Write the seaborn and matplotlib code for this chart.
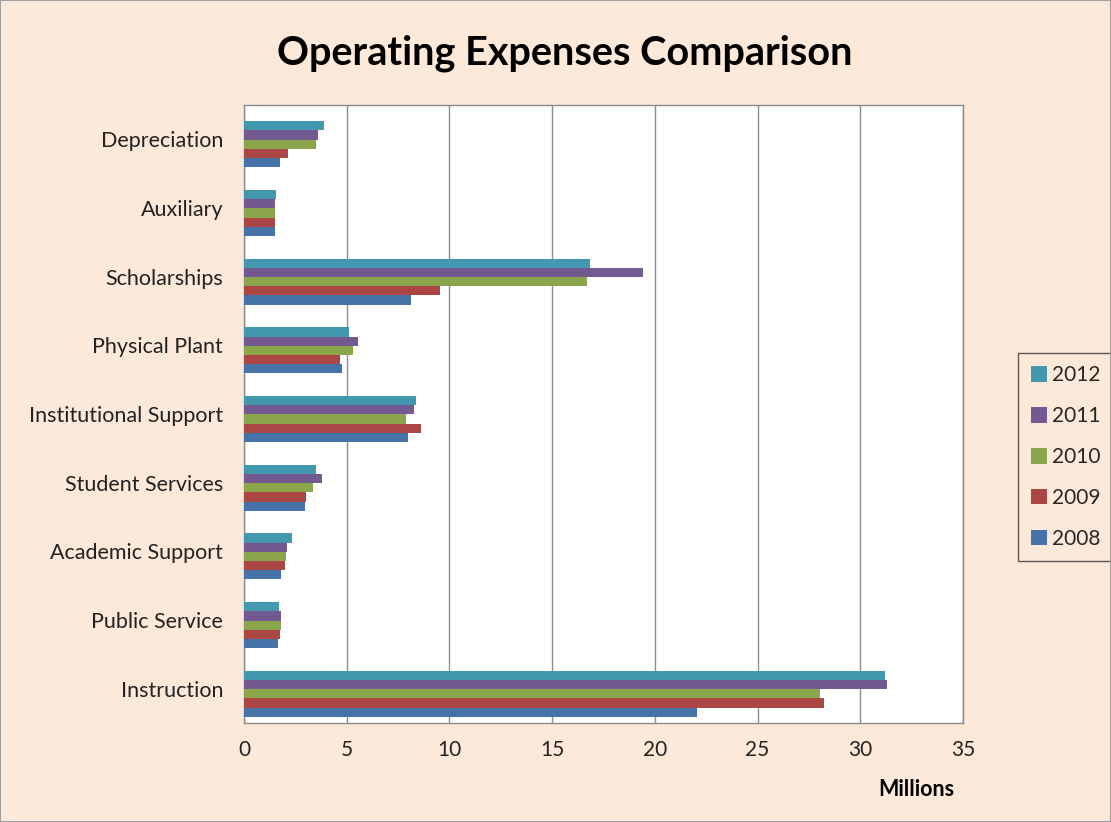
import pandas as pd
import matplotlib.pyplot as plt
import matplotlib.transforms as mtransforms
import seaborn as sns
from matplotlib.patches import Rectangle

# categories top to bottom
categories = ['Depreciation', 'Auxiliary', 'Scholarships', 'Physical Plant',
              'Institutional Support', 'Student Services', 'Academic Support',
              'Public Service', 'Instruction']
years = ['2012', '2011', '2010', '2009', '2008']

v2012 = [3.88, 1.58, 16.86, 5.13, 8.36, 3.51, 2.36, 1.71, 31.18]
v2011 = [3.61, 1.53, 19.44, 5.57, 8.26, 3.79, 2.10, 1.81, 31.28]
v2010 = [3.51, 1.53, 16.72, 5.29, 7.87, 3.38, 2.03, 1.81, 28.05]
v2009 = [2.15, 1.53, 9.56, 4.65, 8.64, 3.03, 1.99, 1.76, 28.21]
v2008 = [1.76, 1.53, 8.13, 4.76, 7.97, 2.96, 1.81, 1.66, 22.03]

colors = ['#4198AF', '#725990', '#8AA54C', '#AA4643', '#4572A7']

rows = []
for yr, vals in zip(years, [v2012, v2011, v2010, v2009, v2008]):
    for c, v in zip(categories, vals):
        rows.append({'Category': c, 'Year': yr, 'Value': v})
df = pd.DataFrame(rows)

sns.set_style('white')
plt.rcParams['font.family'] = ['Lato', 'DejaVu Sans']

bg = '#FDE9D9'
fig = plt.figure(figsize=(11.11, 8.22), dpi=100, facecolor=bg)
ax = fig.add_axes([0.2196, 0.1204, 0.6472, 0.7522])
ax.set_facecolor('white')

sns.barplot(data=df, y='Category', x='Value', hue='Year', hue_order=years,
            order=categories, palette=colors, orient='h', width=0.67,
            saturation=1, ax=ax, linewidth=0, zorder=3)

ax.set_xlim(0, 35)
ax.set_xticks(range(0, 36, 5))
ax.xaxis.grid(True, color='#8C8C8C', linewidth=1.0, zorder=0)
ax.set_axisbelow(True)

# Excel draws the bar groups slightly below the category centre
d = -0.075
n = len(categories)
ax.set_ylim(n - 0.5 + d, -0.5 + d)
ax.set_yticks(range(n))
ax.set_yticks([i - 0.5 + d for i in range(n + 1)], minor=True)
ax.tick_params(axis='y', which='major', length=0, labelsize=15.5, pad=15, colors='#222222')
ax.tick_params(axis='y', which='minor', length=6, width=1, color='#8C8C8C', direction='out')
ax.tick_params(axis='x', which='major', length=6, width=1, color='#8C8C8C',
               direction='out', labelsize=15, colors='#222222', pad=6)
shift = mtransforms.ScaledTranslation(0, 5 / 100, fig.dpi_scale_trans)
for lab in ax.get_yticklabels():
    lab.set_transform(lab.get_transform() + shift)
ax.set_xlabel('')
ax.set_ylabel('')
for s in ax.spines.values():
    s.set_color('#8C8C8C')
    s.set_linewidth(1.0)

fig.text(0.5086, 0.9355, 'Operating Expenses Comparison', ha='center', va='center',
         fontsize=28.5, fontweight='bold', color='black')
fig.text(0.859, 0.039, 'Millions', ha='right', va='center', fontsize=15.5,
         fontweight='bold', color='black')

leg = ax.legend(loc='upper left', bbox_to_anchor=(0.9163, 0.5706),
                bbox_transform=fig.transFigure, borderaxespad=0,
                frameon=True, fancybox=False,
                fontsize=15, handlelength=0.77, handleheight=0.77,
                labelspacing=1.0, borderpad=0.6, handletextpad=0.25)
leg.get_frame().set_edgecolor('#333333')
leg.get_frame().set_facecolor(bg)
leg.get_frame().set_linewidth(1.0)

fig.patches.append(Rectangle((0, 0), 1, 1, transform=fig.transFigure,
                             fill=False, edgecolor='#A0A0A0', linewidth=1.5))

fig.savefig('out.png', dpi=100, facecolor=bg)
